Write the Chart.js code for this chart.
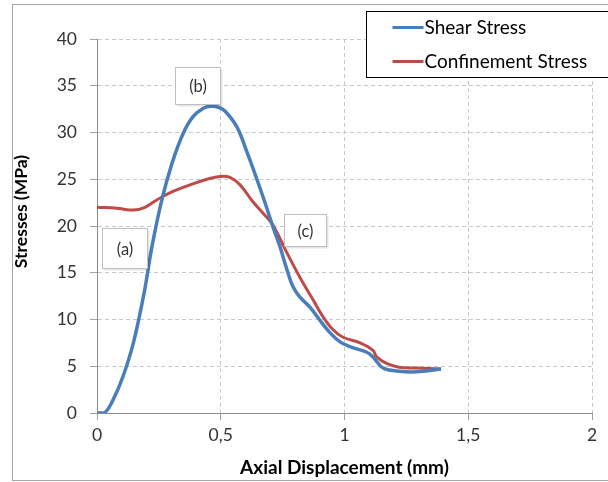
<!DOCTYPE html>
<html>
<head>
<meta charset="utf-8">
<script src="https://cdn.jsdelivr.net/npm/chart.js@4.4.1/dist/chart.umd.min.js"></script>
<style>
  html, body { margin: 0; padding: 0; background: #ffffff; }
  #wrap { position: relative; width: 608px; height: 482px; }
  canvas { display: block; }
</style>
</head>
<body>
<div id="wrap"><canvas id="c" width="608" height="482"></canvas></div>
<script>
// ---- data ----
const shearX = [0, 0.03, 0.065, 0.105, 0.147, 0.19, 0.222, 0.262, 0.303, 0.348, 0.388, 0.43, 0.46, 0.49, 0.517, 0.565, 0.606, 0.646, 0.68, 0.711, 0.739, 0.768, 0.792, 0.82, 0.861, 0.901, 0.941, 0.982, 1.022, 1.09, 1.115, 1.156, 1.21, 1.29, 1.39];
const shearY = [0, 0, 1.4, 3.9, 7.5, 12.8, 17.8, 22.8, 26.7, 29.9, 31.7, 32.6, 32.8, 32.7, 32.3, 30.6, 27.9, 25.0, 22.4, 19.9, 17.8, 15.3, 13.5, 12.4, 11.3, 9.9, 8.6, 7.6, 7.1, 6.5, 6.0, 4.8, 4.5, 4.4, 4.7];
const confX = [0, 0.08, 0.147, 0.194, 0.23, 0.262, 0.307, 0.376, 0.444, 0.497, 0.537, 0.578, 0.63, 0.687, 0.711, 0.768, 0.82, 0.873, 0.913, 0.954, 0.994, 1.063, 1.115, 1.13, 1.17, 1.22, 1.29, 1.39];
const confY = [22.0, 21.9, 21.7, 22.0, 22.6, 23.1, 23.7, 24.4, 25.0, 25.3, 25.2, 24.4, 22.6, 20.9, 20.1, 17.1, 14.5, 12.1, 10.3, 8.9, 8.1, 7.5, 6.7, 6.0, 5.3, 4.9, 4.8, 4.7];
const seriesNames = ['Shear Stress', 'Confinement Stress'];
const xTickValues = [0, 0.5, 1, 1.5, 2];
const xTickLabels = ['0', '0,5', '1', '1,5', '2'];
const yTickValues = [0, 5, 10, 15, 20, 25, 30, 35, 40];
const yTickLabels = ['0', '5', '10', '15', '20', '25', '30', '35', '40'];
const notes = [
  { text: '(a)', x0: 0.02, x1: 0.202, y0: 19.8, y1: 15.5 },
  { text: '(b)', x0: 0.315, x1: 0.497, y0: 37.0, y1: 33.0 },
  { text: '(c)', x0: 0.755, x1: 0.925, y0: 21.3, y1: 17.9 }
];
const xTitle = 'Axial Displacement (mm)';
const yTitle = 'Stresses (MPa)';

const colors = ['#4A7EBB', '#BE4B48'];
const FONT = 'Lato, "Open Sans", sans-serif';

function pts(xs, ys) { return xs.map((x, i) => ({ x: x, y: ys[i] })); }

const decorPlugin = {
  id: 'decor',
  beforeDraw(chart) {
    const ctx = chart.ctx;
    ctx.save();
    ctx.fillStyle = '#ffffff';
    ctx.fillRect(0, 0, chart.width, chart.height);
    ctx.restore();
  },
  afterDraw(chart) {
    const ctx = chart.ctx;
    const xs = chart.scales.x, ys = chart.scales.y;
    const area = chart.chartArea;
    ctx.save();
    // outer chart border
    ctx.strokeStyle = '#a6a6a6';
    ctx.lineWidth = 1;
    ctx.strokeRect(12.5, 4.5, 700, 476);

    // annotation boxes
    ctx.font = '16.5px ' + FONT;
    ctx.textAlign = 'center';
    ctx.textBaseline = 'middle';
    notes.forEach(n => {
      const l = Math.round(xs.getPixelForValue(n.x0)) + 0.5;
      const r = Math.round(xs.getPixelForValue(n.x1)) + 0.5;
      const t = Math.round(ys.getPixelForValue(n.y0)) + 0.5;
      const b = Math.round(ys.getPixelForValue(n.y1)) + 0.5;
      ctx.fillStyle = 'rgba(0,0,0,0.10)';
      ctx.fillRect(l + 2, t + 2, r - l, b - t);
      ctx.fillStyle = '#ffffff';
      ctx.fillRect(l, t, r - l, b - t);
      ctx.strokeStyle = '#bfbfbf';
      ctx.strokeRect(l, t, r - l, b - t);
      ctx.fillStyle = '#333333';
      ctx.fillText(n.text, (l + r) / 2, (t + b) / 2 + 1);
    });

    // legend box (top-right, overlapping plot)
    const lx = area.right - 225.5, ly = 11.5;
    ctx.fillStyle = '#ffffff';
    ctx.fillRect(lx, ly, 250, 66);
    ctx.strokeStyle = '#000000';
    ctx.lineWidth = 1;
    ctx.strokeRect(lx, ly, 250, 66);
    ctx.font = '19px ' + FONT;
    ctx.textAlign = 'left';
    ctx.textBaseline = 'middle';
    chart.data.datasets.forEach((ds, i) => {
      const yy = ly + 16 + i * 34;
      ctx.strokeStyle = ds.borderColor;
      ctx.lineWidth = 3;
      ctx.beginPath();
      ctx.moveTo(lx + 26, yy);
      ctx.lineTo(lx + 57, yy);
      ctx.stroke();
      ctx.fillStyle = '#000000';
      ctx.fillText(ds.label, lx + 58, yy);
    });

    // y-axis title
    ctx.save();
    ctx.translate(21.5, 211.5);
    ctx.rotate(-Math.PI / 2);
    ctx.font = 'bold 17.5px ' + FONT;
    ctx.fillStyle = '#000000';
    ctx.textAlign = 'center';
    ctx.textBaseline = 'middle';
    ctx.fillText(yTitle, 0, 0);
    ctx.restore();

    ctx.restore();
  }
};

new Chart(document.getElementById('c'), {
  type: 'line',
  data: {
    datasets: [
      { label: seriesNames[0], data: pts(shearX, shearY), borderColor: colors[0], backgroundColor: colors[0],
        borderWidth: 3.5, pointRadius: 0, tension: 0.4, fill: false },
      { label: seriesNames[1], data: pts(confX, confY), borderColor: colors[1], backgroundColor: colors[1],
        borderWidth: 3, pointRadius: 0, tension: 0.4, fill: false }
    ]
  },
  options: {
    responsive: false,
    animation: false,
    devicePixelRatio: 1,
    layout: { padding: { left: 0, right: 16, top: 39, bottom: 0 } },
    plugins: { legend: { display: false }, tooltip: { enabled: false } },
    scales: {
      x: {
        type: 'linear', min: 0, max: 2,
        afterBuildTicks(s) { s.ticks = xTickValues.map(v => ({ value: v })); },
        afterFit(s) { s.height = 69; },
        ticks: {
          padding: 5,
          color: '#333333',
          font: { family: FONT, size: 17.5 },
          maxRotation: 0,
          callback(v) { const i = xTickValues.indexOf(v); return i >= 0 ? xTickLabels[i] : ''; }
        },
        grid: { color: '#c8c8c8', tickColor: '#a0a0a0', tickLength: 7, tickBorderDash: [], lineWidth: 1 },
        border: { display: true, color: '#8c8c8c', dash: [4, 3] },
        title: { display: true, text: xTitle, color: '#000000', font: { family: FONT, size: 19, weight: 'bold' }, padding: { top: 2, bottom: 3 } }
      },
      y: {
        type: 'linear', min: 0, max: 40,
        afterBuildTicks(s) { s.ticks = yTickValues.map(v => ({ value: v })); },
        afterFit(s) { s.width = 97; },
        ticks: {
          padding: 13,
          color: '#333333',
          font: { family: FONT, size: 17.5 },
          callback(v) { const i = yTickValues.indexOf(v); return i >= 0 ? yTickLabels[i] : ''; }
        },
        grid: { color: '#c8c8c8', tickColor: '#a0a0a0', tickLength: 7, tickBorderDash: [], lineWidth: 1 },
        border: { display: true, color: '#8c8c8c', dash: [4, 3] }
      }
    }
  },
  plugins: [decorPlugin]
});
</script>
</body>
</html>
